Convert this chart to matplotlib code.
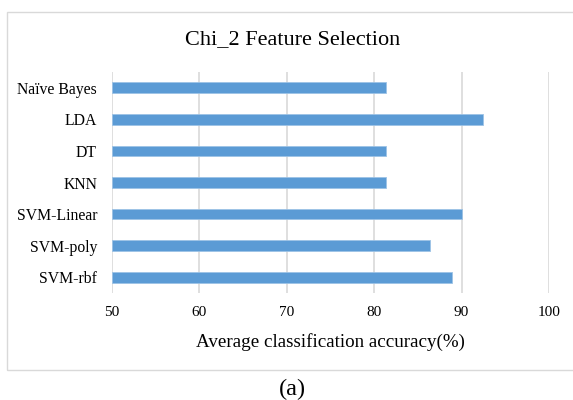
import matplotlib
matplotlib.use("Agg")
import matplotlib.pyplot as plt
from matplotlib.patches import Rectangle

categories = ["Naïve Bayes", "LDA", "DT", "KNN", "SVM-Linear", "SVM-poly", "SVM-rbf"]
values = [81.3, 92.5, 81.3, 81.3, 90.05, 86.4, 88.9]
xticks = [50, 60, 70, 80, 90, 100]

W, H = 573, 400
fig = plt.figure(figsize=(W / 100, H / 100), dpi=100)
plt.rcParams['font.family'] = ['Liberation Serif', 'DejaVu Serif']

# axes in pixel coords
left, right, top, bottom = 112, 549, 72, 293
ax = fig.add_axes([left / W, 1 - bottom / H, (right - left) / W, (bottom - top) / H])

y = list(range(len(categories)))
ax.barh(y, [v - 50 for v in values], left=50, height=0.34, color='#5b9bd5',
        edgecolor='#9dc3e6', linewidth=0.6, zorder=3)
ax.set_xlim(50, 100)
ax.set_ylim(len(categories) - 0.5, -0.5)
ax.set_yticks(y)
ax.set_yticklabels(categories, fontsize=11.3)
ax.set_xticks(xticks)
ax.set_xticklabels([str(t) for t in xticks], fontsize=11)
ax.tick_params(axis='both', length=0, colors='#000000')
ax.tick_params(axis='y', pad=10.8)
ax.tick_params(axis='x', pad=9)
ax.grid(axis='x', color='#d9d9d9', linewidth=1.2, zorder=0)
for s in ax.spines.values():
    s.set_visible(False)

fig.text(330.5 / W, 1 - 342 / H, "Average classification accuracy(%)",
         ha='center', va='center', fontsize=13.7)
fig.text(293 / W, 1 - 39.5 / H, "Chi_2 Feature Selection", ha='center', va='center', fontsize=16)
fig.text(292 / W, 1 - 389 / H, "(a)", ha='center', va='center', fontsize=17.5)

fig.patches.append(Rectangle((6.5 / W, 1 - 370 / H), (590 - 6.5) / W, (370 - 12) / H,
                             transform=fig.transFigure, fill=False,
                             edgecolor='#d9d9d9', linewidth=1.0))

fig.savefig("out.png", dpi=100)
